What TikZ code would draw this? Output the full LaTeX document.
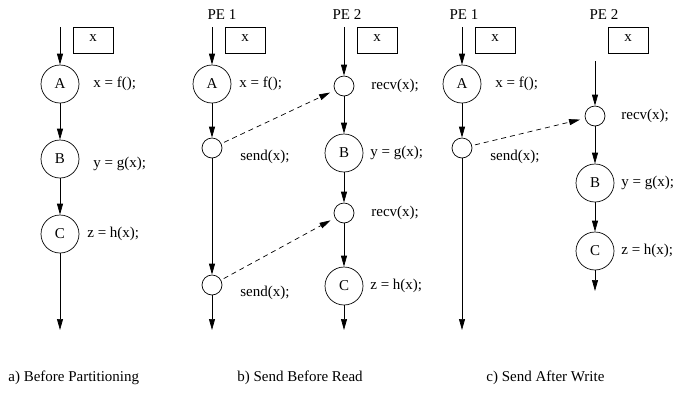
\documentclass[tikz,border=0pt]{standalone}
\usepackage{fontspec}
\setmainfont{Liberation Serif}
\usetikzlibrary{arrows.meta}

\tikzset{
  proc/.style={draw, circle, minimum size=38pt, inner sep=0pt},
  msg/.style={draw, circle, minimum size=20pt, inner sep=0pt},
  var/.style={draw, rectangle, minimum width=40pt, minimum height=26pt, inner sep=0pt},
  cod/.style={anchor=west, inner sep=0pt},
  flujo/.style={-{Triangle[length=11pt,width=6pt]}},
  envio/.style={dash pattern=on 5pt off 4pt, -{Triangle[length=11pt,width=6pt]}, shorten >=5pt, shorten <=3pt},
}

\begin{document}
\begin{tikzpicture}[x=1pt, y=-1pt, line width=0.7pt, font=\fontsize{15}{18}\selectfont]
  \useasboundingbox (0,0) rectangle (675,392);

  % a) antes de particionar
  \coordinate (a0) at (60,27);
  \node[var] (ax) at (93,40) {\raisebox{3pt}{x}};
  \node[proc] (aA) at (60,84) {A};
  \node[proc] (aB) at (60,159) {B};
  \node[proc] (aC) at (60,234) {C};
  \coordinate (a1) at (60,330);
  \node[cod] (afA) at (93,84) {x = f();};
  \node[cod] (afB) at (93,164) {y = g(x);};
  \node[cod] (afC) at (87,234) {z = h(x);};
  \draw[flujo] (a0) -- (aA);
  \draw[flujo] (aA) -- (aB);
  \draw[flujo] (aB) -- (aC);
  \draw[flujo] (aC) -- (a1);
  \node[cod] (capa) at (8,378) {a) Before Partitioning};

  % b) enviar antes de leer
  \node (bp1) at (222,15) {PE 1};
  \node (bp2) at (347,15) {PE 2};
  \coordinate (b10) at (212,27);
  \coordinate (b20) at (344,27);
  \node[var] (bx1) at (245,40) {\raisebox{3pt}{x}};
  \node[var] (bx2) at (377,40) {\raisebox{3pt}{x}};
  \node[proc] (bA) at (212,84) {A};
  \node[msg] (bs1) at (212,148) {};
  \node[msg] (bs2) at (212,285) {};
  \coordinate (b11) at (212,330);
  \node[msg] (br1) at (344,86) {};
  \node[proc] (bB) at (344,153) {B};
  \node[msg] (br2) at (344,213) {};
  \node[proc] (bC) at (344,286) {C};
  \coordinate (b21) at (344,330);
  \node[cod] (bfA) at (239,84) {x = f();};
  \node[cod] (bfs1) at (240,157) {send(x);};
  \node[cod] (bfs2) at (240,293) {send(x);};
  \node[cod] (bfr1) at (371,86) {recv(x);};
  \node[cod] (bfB) at (370,153) {y = g(x);};
  \node[cod] (bfr2) at (371,213) {recv(x);};
  \node[cod] (bfC) at (370,286) {z = h(x);};
  \draw[flujo] (b10) -- (bA);
  \draw[flujo] (bA) -- (bs1);
  \draw[flujo] (bs1) -- (bs2);
  \draw[flujo] (bs2) -- (b11);
  \draw[flujo] (b20) -- (br1);
  \draw[flujo] (br1) -- (bB);
  \draw[flujo] (bB) -- (br2);
  \draw[flujo] (br2) -- (bC);
  \draw[flujo] (bC) -- (b21);
  \draw[envio] (bs1) -- (br1);
  \draw[envio] (bs2) -- (br2);
  \node[cod] (capb) at (237,378) {b) Send Before Read};

  % c) enviar despues de escribir
  \node (cp1) at (464,15) {PE 1};
  \node (cp2) at (604,15) {PE 2};
  \coordinate (c10) at (462,27);
  \coordinate (c20) at (595,61);
  \node[var] (cx1) at (495,40) {\raisebox{3pt}{x}};
  \node[var] (cx2) at (628,40) {\raisebox{3pt}{x}};
  \node[proc] (cA) at (462,84) {A};
  \node[msg] (cs) at (462,148) {};
  \coordinate (c11) at (462,330);
  \node[msg] (cr) at (595,116) {};
  \node[proc] (cB) at (595,183) {B};
  \node[proc] (cC) at (595,251) {C};
  \coordinate (c21) at (595,291);
  \node[cod] (cfA) at (495,84) {x = f();};
  \node[cod] (cfs) at (490,157) {send(x);};
  \node[cod] (cfr) at (621,116) {recv(x);};
  \node[cod] (cfB) at (621,183) {y = g(x);};
  \node[cod] (cfC) at (621,251) {z = h(x);};
  \draw[flujo] (c10) -- (cA);
  \draw[flujo] (cA) -- (cs);
  \draw[flujo] (cs) -- (c11);
  \draw[flujo] (c20) -- (cr);
  \draw[flujo] (cr) -- (cB);
  \draw[flujo] (cB) -- (cC);
  \draw[flujo] (cC) -- (c21);
  \draw[envio] (cs) -- (cr);
  \node[cod] (capc) at (486,378) {c) Send After Write};
\end{tikzpicture}
\end{document}
